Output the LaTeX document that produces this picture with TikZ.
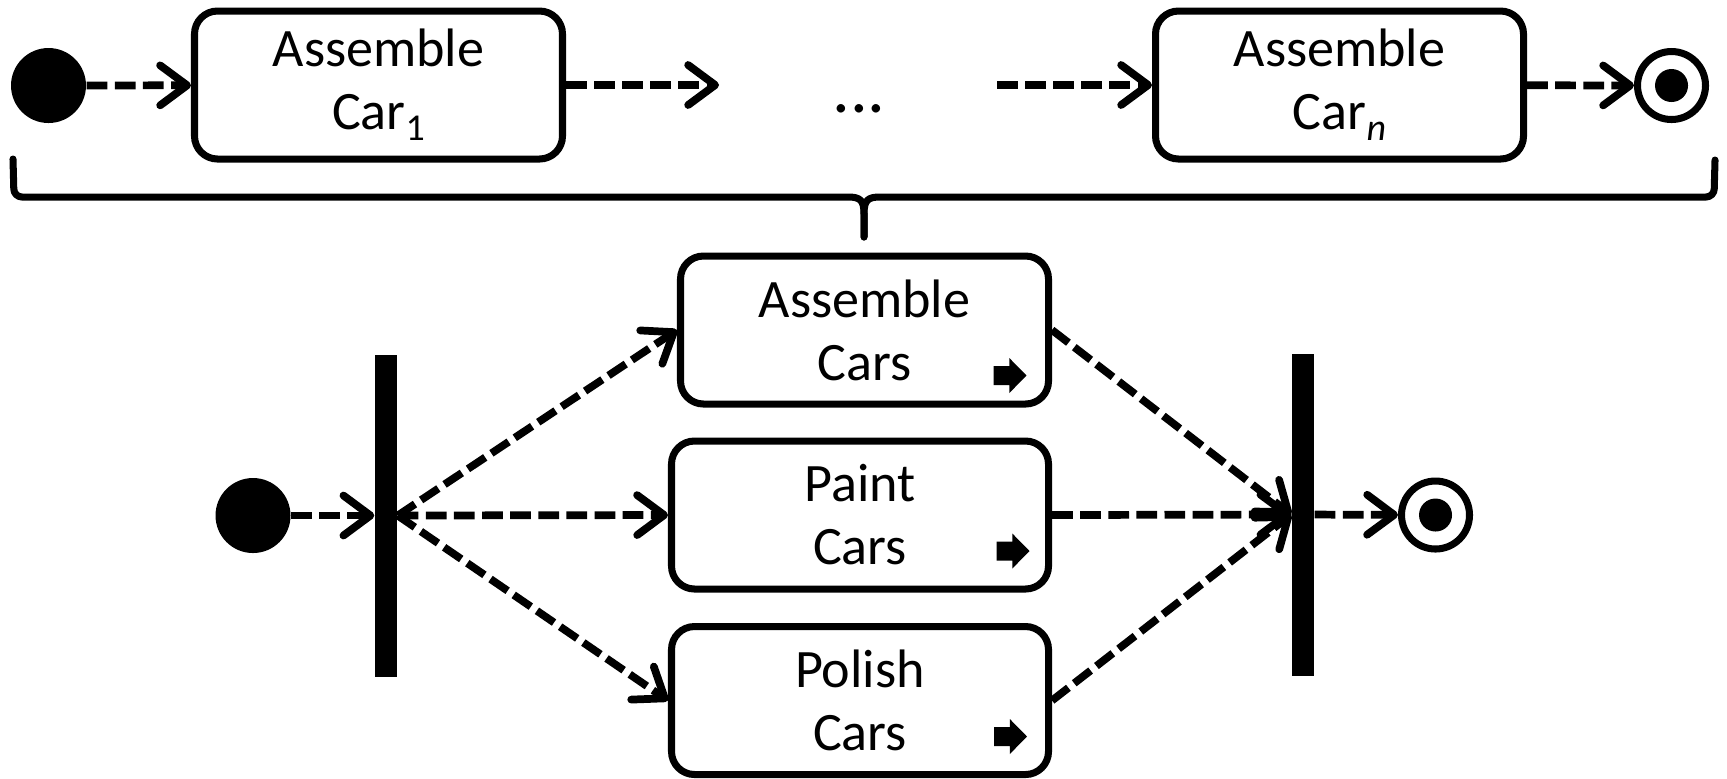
\documentclass[tikz,border=0pt]{standalone}
\usepackage{fontspec}
\setmainfont{Carlito}
\usetikzlibrary{arrows.meta}
\newcommand{\carsub}[1]{\raisebox{-3.2pt}{\fontsize{10.8pt}{10.8pt}\selectfont #1}}
\tikzset{
  taskbox/.style={rectangle,rounded corners=0.23cm,draw=black,line width=2pt,minimum width=3.68cm,minimum height=1.48cm,inner sep=0pt,align=center,font=\fontsize{15.4pt}{17.9pt}\selectfont},
  startdot/.style={circle,fill=black,minimum size=0.75cm,inner sep=0pt},
  enddot/.style={circle,draw=black,line width=2pt,minimum size=0.68cm,inner sep=0pt,
    path picture={\fill[black] (path picture bounding box.center) circle (0.165cm);}},
  syncbar/.style={rectangle,fill=black,minimum width=0.22cm,minimum height=3.22cm,inner sep=0pt},
  flowedge/.style={-{Straight Barb[length=0.27cm,width=0.40cm,line cap=round,line join=round]},line width=2.2pt,dash pattern=on 5.9pt off 2.1pt},
  bracepath/.style={line width=2pt,line cap=round,line join=round},
  runicon/.pic={\fill[black] (-0.165,0.095) -- (-0.007,0.095) -- (-0.007,0.175) -- (0.165,0) -- (-0.007,-0.175) -- (-0.007,-0.095) -- (-0.165,-0.095) -- cycle;},
}

\begin{document}
\begin{tikzpicture}
  \useasboundingbox (0,0) rectangle (17.27,-7.78);
  % top row
  \node[startdot] (nS0) at (0.485,-0.855) {};
  \node[taskbox] (nA1) at (3.785,-0.85) {Assemble\\Car\carsub{1}};
  \coordinate (cR) at (7.19,-0.85);
  \node[anchor=base,font=\fontsize{20pt}{20pt}\selectfont] (nDots) at (8.59,-1.12) {...};
  \coordinate (cL) at (9.97,-0.85);
  \node[taskbox] (nAn) at (13.395,-0.85) {Assemble\\Car\carsub{\itshape n}};
  \node[enddot] (nE0) at (16.715,-0.855) {};
  \draw[flowedge] (nS0) -- (nA1);
  \draw[flowedge] (nA1) -- (cR);
  \draw[flowedge] (cL) -- (nAn);
  \draw[flowedge] (nAn) -- (nE0);
  % brace
  \coordinate (bL) at (0.13,-1.59);
  \coordinate (bR) at (17.15,-1.60);
  \coordinate (bT) at (8.64,-2.37);
  \draw[bracepath] (bT) -- (8.64,-2.14) .. controls (8.64,-2.00) and (8.60,-1.97) .. (8.48,-1.97)
    [rounded corners=0.08cm] -- (0.14,-1.97) -- (bL);
  \draw[bracepath] (bT) -- (8.64,-2.14) .. controls (8.64,-2.00) and (8.68,-1.97) .. (8.80,-1.97)
    [rounded corners=0.08cm] -- (17.14,-1.97) -- (bR);
  % bottom row
  \node[startdot] (nS1) at (2.53,-5.155) {};
  \node[syncbar] (nFork) at (3.86,-5.155) {};
  \node[taskbox] (nAC) at (8.645,-3.30) {Assemble\\Cars};
  \node[taskbox,minimum width=3.77cm] (nPC) at (8.60,-5.15) {Paint\\Cars};
  \node[taskbox,minimum width=3.77cm] (nPo) at (8.60,-7.005) {Polish\\Cars};
  \node[syncbar] (nJoin) at (13.03,-5.145) {};
  \node[enddot] (nE1) at (14.355,-5.15) {};
  \pic at (10.10,-3.755) {runicon};
  \pic at (10.13,-5.51) {runicon};
  \pic at (10.105,-7.365) {runicon};
  \draw[flowedge] (nS1) -- (nFork);
  \draw[flowedge] (nFork.east) -- (nAC.west);
  \draw[flowedge] (nFork.east) -- (nPC.west);
  \draw[flowedge] (nFork.east) -- (nPo.west);
  \draw[flowedge] (nAC.east) -- (nJoin.west);
  \draw[flowedge] (nPC.east) -- (nJoin.west);
  \draw[flowedge] (nPo.east) -- (nJoin.west);
  \draw[flowedge] (nJoin) -- (nE1);
\end{tikzpicture}
\end{document}
